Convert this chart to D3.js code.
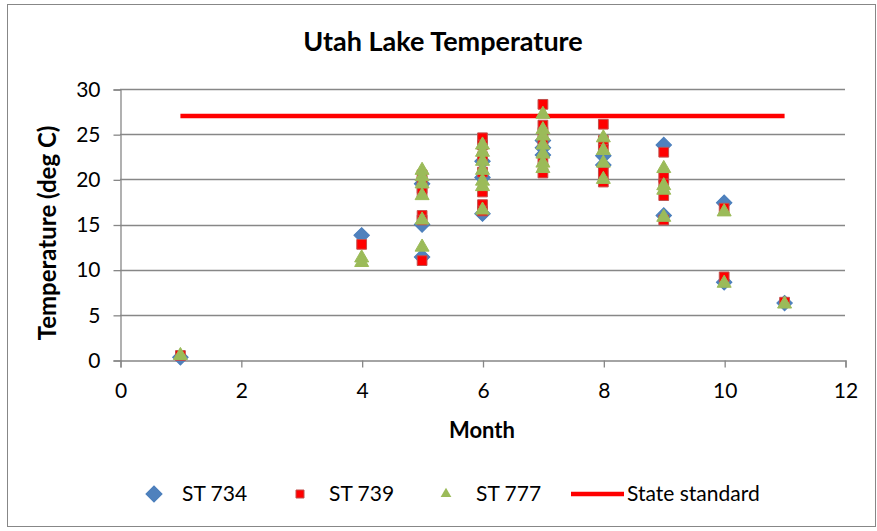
<!DOCTYPE html>
<html>
<head>
<meta charset="utf-8">
<script src="https://cdn.jsdelivr.net/npm/d3@7"></script>
<style>
  html, body { margin: 0; padding: 0; background: #fff; }
  svg { display: block; font-family: Lato, "Open Sans", sans-serif; }
</style>
</head>
<body>
<svg id="chart" width="877" height="531"></svg>
<script>
// Monthly water temperature samples (deg C) at three Utah Lake stations
const st734Month = [1, 4, 5, 5, 5, 6, 6, 6, 7, 7, 7, 8, 8, 9, 9, 10, 10, 11];
const st734Temp  = [0.3, 13.8, 19.5, 15.0, 11.4, 22.0, 20.2, 16.2, 24.3, 23.5, 22.7, 22.6, 21.6, 23.8, 16.0, 17.4, 8.6, 6.3];

const st739Month = [1, 4, 5, 5, 5, 5, 5, 5, 5, 6, 6, 6, 6, 6, 6, 6, 7, 7, 7, 7, 7, 7, 8, 8, 8, 8, 8, 9, 9, 9, 9, 9, 10, 10, 11];
const st739Temp  = [0.5, 12.8, 20.5, 19.8, 19.0, 18.5, 16.0, 15.5, 11.0, 24.6, 23.8, 22.5, 20.8, 18.6, 17.2, 16.5, 28.3, 26.0, 25.2, 24.0, 22.0, 20.7, 26.1, 24.3, 23.3, 20.8, 19.7, 23.0, 20.2, 19.5, 18.2, 15.5, 16.8, 9.2, 6.4];

const st777Month = [1, 4, 4, 5, 5, 5, 5, 5, 5, 6, 6, 6, 6, 6, 6, 6, 7, 7, 7, 7, 7, 7, 7, 8, 8, 8, 8, 9, 9, 9, 9, 10, 10, 11];
const st777Temp  = [0.5, 11.3, 10.8, 21.0, 20.3, 19.5, 18.2, 15.5, 12.5, 23.8, 23.0, 22.0, 21.0, 19.8, 19.2, 16.6, 27.2, 25.5, 24.8, 23.8, 22.8, 21.8, 21.2, 24.6, 23.2, 21.8, 20.0, 21.2, 19.3, 18.8, 15.8, 16.4, 8.5, 6.2];

// State water quality standard
const standardMonths = [1, 11];
const standardTemp = 27;

const xTicks = [0, 2, 4, 6, 8, 10, 12];
const yTicks = [0, 5, 10, 15, 20, 25, 30];

const svg = d3.select("#chart");
const axisGray = "#878787";
const labelSize = "21px";

// chart frame
svg.append("rect")
  .attr("x", 7.5).attr("y", 4.5)
  .attr("width", 868).attr("height", 522)
  .attr("fill", "#fff").attr("stroke", axisGray).attr("stroke-width", 1);

const x = d3.scaleLinear().domain([0, 12]).range([120, 845]);
const y = d3.scaleLinear().domain([0, 30]).range([360, 89]);

// horizontal gridlines
svg.append("g")
  .selectAll("line")
  .data(yTicks.filter(d => d > 0))
  .join("line")
  .attr("x1", x(0)).attr("x2", x(12))
  .attr("y1", d => Math.round(y(d)) + 0.5).attr("y2", d => Math.round(y(d)) + 0.5)
  .attr("stroke", axisGray).attr("stroke-width", 1.3);

// axes
const yAxis = svg.append("g")
  .attr("transform", `translate(${x(0) + 0.5},0.5)`)
  .call(d3.axisLeft(y).tickValues(yTicks).tickSize(7).tickPadding(13).tickFormat(d3.format("d")));
const xAxis = svg.append("g")
  .attr("transform", `translate(0.5,${Math.round(y(0)) + 0.5})`)
  .call(d3.axisBottom(x).tickValues(xTicks).tickSize(7).tickPadding(16).tickFormat(d3.format("d")));

[yAxis, xAxis].forEach(g => {
  g.select(".domain").attr("stroke", axisGray).attr("stroke-width", 1.3);
  g.selectAll(".tick line").attr("stroke", axisGray).attr("stroke-width", 1.3);
  g.selectAll(".tick text")
    .attr("fill", "#000")
    .style("font-family", "Lato, 'Open Sans', sans-serif")
    .style("font-size", labelSize);
});

// title and axis titles
svg.append("text")
  .attr("x", 443).attr("y", 51)
  .attr("text-anchor", "middle")
  .style("font-size", "27px").style("font-weight", "bold")
  .text("Utah Lake Temperature");

svg.append("text")
  .attr("x", 482).attr("y", 438)
  .attr("text-anchor", "middle")
  .style("font-size", "22px").style("font-weight", "bold")
  .text("Month");

svg.append("text")
  .attr("transform", "translate(56,233) rotate(-90)")
  .attr("text-anchor", "middle")
  .style("font-size", "24px").style("font-weight", "bold")
  .text("Temperature (deg C)");

// state standard line
svg.append("line")
  .attr("x1", x(standardMonths[0])).attr("x2", x(standardMonths[1]))
  .attr("y1", y(standardTemp)).attr("y2", y(standardTemp))
  .attr("stroke", "#ff0000").attr("stroke-width", 4.5);

// marker shapes
const diamond = d3.symbol().type(d3.symbolSquare).size(120);
const square = d3.symbol().type(d3.symbolSquare).size(95);
const triangle = d3.symbol().type(d3.symbolTriangle).size(85);

function drawSeries(months, temps, shapePath, fill, stroke, rot) {
  svg.append("g")
    .selectAll("path")
    .data(months.map((m, i) => ({ m, t: temps[i] })))
    .join("path")
    .attr("d", shapePath)
    .attr("transform", d => `translate(${x(d.m)},${y(d.t)}) rotate(${rot})`)
    .attr("fill", fill)
    .attr("stroke", stroke)
    .attr("stroke-width", 1);
}

drawSeries(st734Month, st734Temp, diamond(), "#4f81bd", "#4a7ebb", 45);
drawSeries(st739Month, st739Temp, square(), "#ff0000", "#c0504d", 0);
drawSeries(st777Month, st777Temp, triangle(), "#9bbb59", "#9bbb59", 0);

// legend
const legendY = 494;
const legend = svg.append("g").style("font-size", labelSize);
legend.append("path").attr("d", d3.symbol().type(d3.symbolSquare).size(130)())
  .attr("transform", `translate(154,${legendY}) rotate(45)`)
  .attr("fill", "#4f81bd").attr("stroke", "#4a7ebb");
legend.append("text").attr("x", 182).attr("y", legendY + 7).text("ST 734");
legend.append("path").attr("d", d3.symbol().type(d3.symbolSquare).size(64)())
  .attr("transform", `translate(300,${legendY})`)
  .attr("fill", "#ff0000").attr("stroke", "#c0504d");
legend.append("text").attr("x", 329).attr("y", legendY + 7).text("ST 739");
legend.append("path").attr("d", d3.symbol().type(d3.symbolTriangle).size(50)())
  .attr("transform", `translate(446,${legendY})`)
  .attr("fill", "#9bbb59");
legend.append("text").attr("x", 476).attr("y", legendY + 7).text("ST 777");
legend.append("line")
  .attr("x1", 571).attr("x2", 624).attr("y1", legendY).attr("y2", legendY)
  .attr("stroke", "#ff0000").attr("stroke-width", 4.5);
legend.append("text").attr("x", 627).attr("y", legendY + 7).text("State standard");
</script>
</body>
</html>
